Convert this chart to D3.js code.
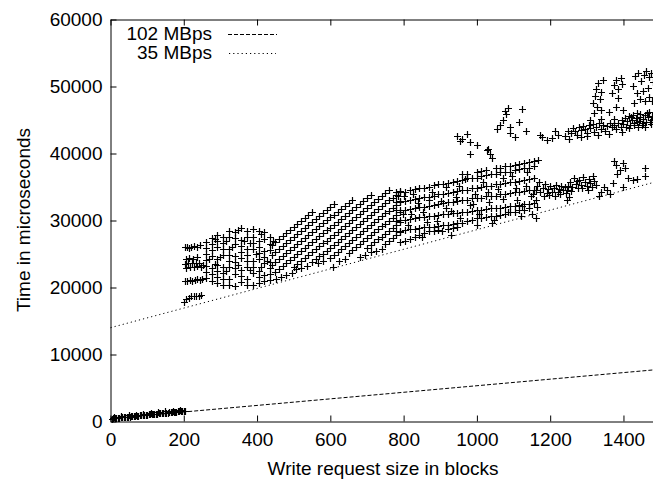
<!DOCTYPE html>
<html>
<head>
<meta charset="utf-8">
<script src="https://cdn.jsdelivr.net/npm/d3@7"></script>
<style>
body { margin: 0; background: #fff; }
text { font-family: "Liberation Sans", Arial, sans-serif; }
</style>
</head>
<body>
<div id="chart"></div>
<script>
// tick values
var xTicks = [0, 200, 400, 600, 800, 1000, 1200, 1400];
var yTicks = [0, 10000, 20000, 30000, 40000, 50000, 60000];

// reference lines (blocks, microseconds)
var rate102 = [[0, 440], [1482, 7700]];
var rate35 = [[0, 14000], [1482, 35680]];

// measured writes, blocks vs microseconds
var smallWrites = [[4,430],[8,460],[12,490],[16,520],[20,550],[24,570],[28,600],[32,620],[36,650],[40,670],[44,700],[48,720],[52,740],[56,770],[60,790],[64,810],[68,840],[72,860],[76,880],[80,910],[84,930],[88,950],[92,980],[96,1000],[100,1020],[104,1050],[108,1070],[112,1090],[116,1110],[120,1140],[124,1160],[128,1180],[132,1210],[136,1230],[140,1250],[144,1270],[148,1300],[152,1320],[156,1340],[160,1370],[164,1390],[168,1410],[172,1430],[176,1460],[180,1480],[184,1500],[188,1530],[192,1550],[196,1570],[200,1600],[204,1620],
  [10,650],[30,780],[50,900],[70,1030],[90,1160],[110,1280],[130,1400],[150,1500],[170,1600],[190,1720]];

var meshLeft = [[200,17900],[206,18300],[213,18500],[220,18700],[227,18700],[234,18800],[241,18800],[248,18900],
  [202,20900],[209,21000],[216,21100],[223,21000],[230,21100],[237,21200],[244,21100],[251,21300],
  [202,23500],[207,22900],[212,23600],[217,23000],[222,23700],[227,23100],[232,23600],[237,23200],[242,23600],[247,23000],[252,23400],
  [205,24300],[215,24400],[225,24200],[235,24500],
  [203,26000],[209,26100],[215,25900],[221,26100],[227,26200],[235,26000],[243,26300]];

var meshX = [260, 276, 292, 308, 324, 340, 356, 372, 388, 404, 420, 436];
var meshY = [
  [21400, 22300, 23200, 24100, 25000, 25900, 26800],
  [21000, 22000, 22900, 24700, 25600, 26500, 27400],
  [20600, 21600, 22500, 23400, 24300, 26100, 27000, 27900],
  [20400, 21300, 22200, 23100, 24900, 25800, 26700, 27600],
  [20300, 21200, 23000, 23900, 24800, 25700, 27500, 28400],
  [20200, 22000, 22900, 23800, 24700, 26500, 27400, 28300],
  [20800, 21700, 22600, 24400, 25300, 26200, 27100, 28900],
  [20400, 21300, 23100, 24000, 24900, 25800, 27600, 28500],
  [20400, 22200, 23100, 24000, 25800, 26700, 27600, 28700],
  [20700, 21600, 22500, 24300, 25200, 26100, 27000, 28400],
  [20900, 21800, 23600, 24500, 25400, 27200, 28300],
  [21100, 22000, 22900, 23800, 25600, 26500, 27600]
];

var meshExtra = [[268,24200],[284,23500],[300,24600],[316,22400],[332,26100],[348,23300],[364,27000],[380,22600],[396,25000],[412,23100],[428,24000],[444,27000],[284,27200],[316,27000],[348,28600],[380,26600],[412,28000]];

// diagonal streaks between 440 and 790 blocks
var streaks = [
  [[440,26410],[450,26850],[460,27290],[470,27730],[480,28170],[490,28610],[500,29050],[510,29490],[520,29930],[530,30370],[540,30810],[550,31250]],
  [[440,24910],[450,25350],[460,25790],[470,26230],[480,26670],[490,27110],[500,27550],[510,27990],[520,28430],[530,28870],[540,29310],[550,29750],[560,30190],[570,30630],[580,31070],[590,31510],[600,31950],[610,32390]],
  [[440,23410],[450,23850],[460,24290],[470,24730],[480,25170],[490,25610],[500,26050],[510,26490],[520,26930],[530,27370],[540,27810],[550,28250],[560,28690],[570,29130],[580,29570],[590,30010],[600,30450],[610,30890],[620,31330],[630,31770],[640,32210],[650,32650],[660,33090]],
  [[450,22350],[460,22790],[470,23230],[480,23670],[490,24110],[500,24550],[510,24990],[520,25430],[530,25870],[540,26310],[550,26750],[560,27190],[570,27630],[580,28070],[590,28510],[600,28950],[610,29390],[620,29830],[630,30270],[640,30710],[650,31150],[660,31590],[670,32030],[680,32470],[690,32910],[700,33350],[710,33790]],
  [[500,23050],[510,23490],[520,23930],[530,24370],[540,24810],[550,25250],[560,25690],[570,26130],[580,26570],[590,27010],[600,27450],[610,27890],[620,28330],[630,28770],[640,29210],[650,29650],[660,30090],[670,30530],[680,30970],[690,31410],[700,31850],[710,32290],[720,32730],[730,33170],[740,33610],[750,34050],[760,34490]],
  [[550,23750],[560,24190],[570,24630],[580,25070],[590,25510],[600,25950],[610,26390],[620,26830],[630,27270],[640,27710],[650,28150],[660,28590],[670,29030],[680,29470],[690,29910],[700,30350],[710,30790],[720,31230],[730,31670],[740,32110],[750,32550],[760,32990],[770,33430],[780,33870],[790,34310]],
  [[600,24450],[610,24890],[620,25330],[630,25770],[640,26210],[650,26650],[660,27090],[670,27530],[680,27970],[690,28410],[700,28850],[710,29290],[720,29730],[730,30170],[740,30610],[750,31050],[760,31490],[770,31930],[780,32370],[790,32810]],
  [[650,25150],[660,25590],[670,26030],[680,26470],[690,26910],[700,27350],[710,27790],[720,28230],[730,28670],[740,29110],[750,29550],[760,29990],[770,30430],[780,30870],[790,31310]],
  [[700,25850],[710,26290],[720,26730],[730,27170],[740,27610],[750,28050],[760,28490],[770,28930],[780,29370],[790,29810]],
  [[750,26550],[760,26990],[770,27430],[780,27870],[790,28310]]
];

var lowStreaks = [[452,21200],[466,21500],[480,21800],[494,22100],
  [505,22700],[520,22900],[535,23200],[565,23700],[580,24000],[608,23000],[625,23900],[640,24300],
  [680,24500],[695,24900],[710,25300],[725,25500],[740,25800]];

var rowX = [778,791,804,817,830,843,856,869,882,895,908,921,934,947,960,973,986,999,1012,1025,1038,1051,1064,1077,1090,1103,1116,1129,1142,1155];
var rowsY = [
  [34300,34400,34300,34500,34700,34800,34800,35000,35300,35400,35400,35600,35800,35900,36000,36300,36400,36400,36600,36800,36900,37000,37200,37300,37300,37500,37700,37800,37900,38100],
  [32800,32900,32900,33100,33200,33400,33500,33500,33700,33900,34000,34100,34300,34400,34500,34600,34800,34800,35000,35100,35200,35400,35500,35600,35700,35800,35900,36100,36200,36400],
  [31500,31500,31600,31700,31900,32000,32000,32200,32300,32400,32600,32700,32700,32900,33000,33100,33300,33300,33400,33600,33700,33700,33900,34000,34100,34200,34200,34400,34500,34600],
  [30000,30100,30100,30200,30300,30500,30500,30600,30700,30800,30900,31000,31100,31100,31200,31300,31400,31500,31600,31700,31800,31800,31900,32000,32100,32200,32300,32400,32500,32600],
  [28500,28500,28600,28700,28800,28900,29000,29100,29100,29200,29300,29400,29500,29600,29600,null,null,null,null,null,null,null,null,null,null,null,null,null,null,null],
  [null,26800,27000,27300,27600,27900,28200,28400,28500,28600,null,28800,28900,29000,null,30000,30100,30300,30400,30500,30600,30700,30800,31000,31200,31300,31500,31600,31800,null]
];

var topRow = [[960,36900],[973,37000],[999,37300],[1012,37400],[1025,37600],[1051,37800],[1064,37900],[1077,38100],[1090,38200],[1103,38300],[1116,38500],[1129,38600],[1142,38800],[1155,38900],[1166,39100]];

var scatterMid = [[850,27500],[905,28400],[930,27900],[1000,29300],[1040,29700],[1120,30600],[1150,31000],[1160,33000],[1165,32000],
  [800,33600],[820,31000],[870,33000],[915,31900],[950,35100],[990,32500],[1030,34300],[1070,36300],[1110,33100],[1135,35100],
  [785,33600],[797,31000],[812,29300],[826,33900],[838,32600],[852,31200],[864,29800],[878,34300],[890,30000],[902,32900],[916,35000],[928,31400],[942,33500],[955,30400],[968,36200],[980,32300],[994,34000],[1006,31000],[1018,35800],[1032,32800],[1046,30100],[1058,34700],[1070,33200],[1084,31300],[1096,36600],[1108,34800],[1122,32200],[1136,37300],[1148,33700],[1160,30400]];

var clusterLow = [[1152,34000],[1160,34600],[1165,35200],[1170,35800],[1172,34200],[1180,34900],[1185,35500],[1190,34100],[1195,34700],[1200,35200],[1205,34300],[1210,34800],[1215,35300],[1220,34200],[1225,34700],[1230,35100],[1235,34500],[1240,35000],[1245,34600],[1250,35200],[1255,35800],[1260,35000],[1265,36300],[1270,35500],[1275,34800],[1280,36000],[1285,35300],[1290,36500],[1295,35800],[1300,35200],[1305,36200],[1310,35600],[1315,35000],[1320,35900],[1325,35300],[1183,33600],[1198,33800],[1212,33700],[1228,33900],[1242,34100],[1258,34400],[1272,35900],[1288,34900],[1302,34600],[1318,36600],
  [1247,33000],[1252,33500],[1333,33700],[1340,34300],[1348,35000],[1355,34500],[1362,33900],[1375,38900],[1380,38300],[1390,37500],[1400,38600],[1405,37800],[1383,37000],[1413,36400],[1425,36100],[1436,36200],[1400,35000],[1460,37900],[1460,36700],[1372,35600]];

var bandHigh = [[1178,42500],[1190,42000],[1206,42300],[1212,43300],[1222,42800],[1240,42600],[1248,43400],[1252,42100],[1256,43000],[1262,43800],[1268,43300],[1272,42700],[1278,43900],[1284,43500],[1290,44100],[1296,43600],[1300,43100],[1305,44200],[1310,43800],[1316,44400],[1320,43200],[1326,44000],[1332,44500],[1338,43700],[1344,44200],[1350,43400],[1356,44100],[1362,44600],[1368,43900],[1374,44300],[1380,43600],[1386,44500],[1392,44000],[1396,45000],[1400,44400],[1405,45300],[1410,44800],[1414,45600],[1418,44300],[1422,45000],[1426,45800],[1430,44600],[1434,45300],[1438,46100],[1442,44900],[1446,45500],[1450,44300],[1454,45100],[1458,45800],[1462,44700],[1466,45400],[1470,46200],[1474,45000],[1478,45600],[1416,43800],[1440,44000],[1460,43900],[1476,44400],
  [1285,42400],[1300,42600],[1330,42800],[1360,42900],[1395,43200],[1310,45000],[1340,45100],[1375,45200],
  [1408,44000],[1420,45400],[1428,44300],[1436,44700],[1444,45900],[1452,44600],[1464,46000],[1472,44700],[1480,45200]];

var scatterHigh = [[1318,47500],[1322,48600],[1325,49700],[1330,50500],[1335,48200],[1340,49200],[1345,50900],[1328,47000],
  [1370,49000],[1375,50200],[1380,51000],[1386,49600],[1392,51300],[1397,50300],[1384,48300],
  [1427,50100],[1432,51600],[1440,52000],[1448,50800],[1455,51700],[1462,52300],[1470,51400],[1476,52000],[1480,50600],
  [1320,46000],[1340,46500],[1360,46200],[1380,46900],[1400,46500],
  [1430,47500],[1445,48200],[1458,47800],[1470,48400],[1478,47900],[1436,49000],[1452,49300],[1466,49800]];

var outliers = [[947,42600],[955,41800],[960,42200],[972,42900],[980,41700],[1001,41300],
  [982,40000],[1028,40500],[1031,40600],[1035,39900],[1040,39400],
  [1056,43700],[1062,44300],[1070,45000],[1078,46400],[1080,45900],[1085,46800],[1090,44000],[1091,43000],[1105,42400],[1116,44700],[1124,46600],[1135,43400],[1173,42700]];

// gather all points
var points = [].concat(smallWrites, meshLeft, meshExtra, lowStreaks, topRow, scatterMid, clusterLow, bandHigh, scatterHigh, outliers);
meshX.forEach(function(mx, i) {
  meshY[i].forEach(function(my) { points.push([mx, my]); });
});
streaks.forEach(function(s) { points = points.concat(s); });
rowsY.forEach(function(row) {
  row.forEach(function(v, i) { if (v !== null) points.push([rowX[i], v]); });
});

var svgWidth = 653;
var svgHeight = 483;
var plot = { left: 110.5, right: 653.5, top: 19.5, bottom: 421.5 };
var fontSize = 19;

var svg = d3.select("#chart").append("svg")
  .attr("width", svgWidth)
  .attr("height", svgHeight);

var xScale = d3.scaleLinear().domain([0, 1482]).range([plot.left, plot.right]);
var yScale = d3.scaleLinear().domain([0, 60000]).range([plot.bottom, plot.top]);

// axes, gnuplot style ticks pointing inward
svg.append("g")
  .attr("transform", `translate(0, ${plot.bottom})`)
  .call(d3.axisBottom(xScale).tickValues(xTicks).tickSize(-6).tickSizeOuter(0).tickPadding(11).tickFormat(d3.format("d")));

svg.append("g")
  .attr("transform", `translate(0, ${plot.top})`)
  .call(d3.axisTop(xScale).tickValues(xTicks).tickSize(-6).tickSizeOuter(0).tickFormat(""));

svg.append("g")
  .attr("transform", `translate(${plot.left}, 0)`)
  .call(d3.axisLeft(yScale).tickValues(yTicks).tickSize(-6).tickSizeOuter(0).tickPadding(8).tickFormat(d3.format("d")));

svg.selectAll(".tick text")
  .attr("font-size", fontSize)
  .attr("font-family", "Liberation Sans, Arial, sans-serif");

// rate lines
var line = d3.line().x(d => xScale(d[0])).y(d => yScale(d[1]));

svg.append("path")
  .datum(rate102)
  .attr("d", line)
  .attr("fill", "none")
  .attr("stroke", "#000")
  .attr("stroke-width", 1)
  .attr("stroke-dasharray", "4,2");

svg.append("path")
  .datum(rate35)
  .attr("d", line)
  .attr("fill", "none")
  .attr("stroke", "#000")
  .attr("stroke-width", 1)
  .attr("stroke-dasharray", "1.2,3");

// points as + marks, snapped to pixel centres
var r = 3.5;
svg.append("g")
  .selectAll("path")
  .data(points)
  .join("path")
  .attr("d", function(d) {
    var px = Math.round(xScale(d[0])) + 0.5, py = Math.round(yScale(d[1])) + 0.5;
    return `M${px - r},${py}h${2 * r}M${px},${py - r}v${2 * r}`;
  })
  .attr("fill", "none")
  .attr("stroke", "#000")
  .attr("stroke-width", 1.2);

// legend
var legend = svg.append("g");
legend.append("text")
  .attr("x", 212).attr("y", 40)
  .attr("text-anchor", "end")
  .attr("font-size", fontSize)
  .text("102 MBps");
legend.append("line")
  .attr("x1", 228).attr("x2", 277).attr("y1", 34.5).attr("y2", 34.5)
  .attr("stroke", "#000").attr("stroke-dasharray", "4,2");
legend.append("text")
  .attr("x", 212).attr("y", 59)
  .attr("text-anchor", "end")
  .attr("font-size", fontSize)
  .text("35 MBps");
legend.append("line")
  .attr("x1", 229).attr("x2", 276).attr("y1", 53.5).attr("y2", 53.5)
  .attr("stroke", "#000").attr("stroke-dasharray", "1.2,3");

// axis titles
svg.append("text")
  .attr("x", 383)
  .attr("y", 475)
  .attr("text-anchor", "middle")
  .attr("font-size", fontSize)
  .text("Write request size in blocks");

svg.append("text")
  .attr("transform", "rotate(-90)")
  .attr("x", -220)
  .attr("y", 30)
  .attr("text-anchor", "middle")
  .attr("font-size", fontSize)
  .text("Time in microseconds");
</script>
</body>
</html>
